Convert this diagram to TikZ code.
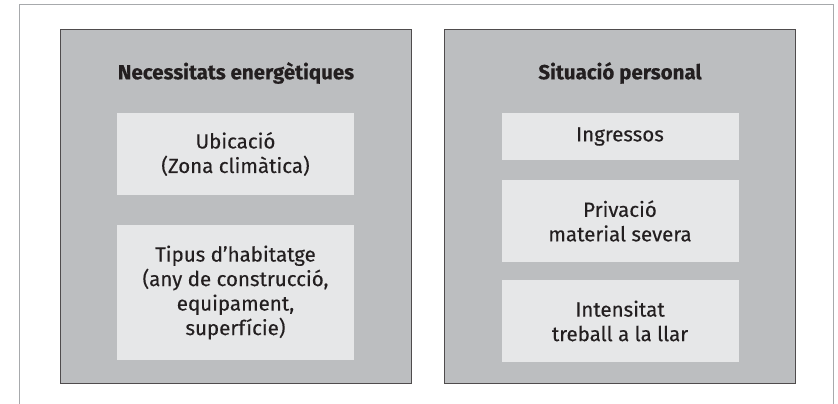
\documentclass[tikz,border=0pt]{standalone}
\usepackage{fontspec}
\setmainfont{Fira Sans}[FakeBold=0.3]
\usepackage{xcolor}
\usepackage{tikz}
\definecolor{framegray}{HTML}{A7A9AC}
\definecolor{panelgray}{HTML}{BCBEC0}
\definecolor{boxgray}{HTML}{E6E7E8}
\definecolor{inkgray}{HTML}{231F20}

\begin{document}
\begin{tikzpicture}[x=1pt,y=-1pt,font=\fontsize{20.5}{24.5}\selectfont,text=inkgray]
    \tikzstyle{panel}=[draw=inkgray!80, fill=panelgray, line width=0.8pt, minimum width=351pt, minimum height=354pt, inner sep=0pt]
    \tikzstyle{item}=[fill=boxgray, minimum width=237pt, align=center, inner sep=0pt]
    \tikzstyle{title}=[font=\fontsize{20.5}{24.5}\selectfont\bfseries]
    \useasboundingbox (0,0) rectangle (838,404);
    \draw[framegray, line width=1pt] (19,404) -- (19,5) -- (833,5) -- (833,404);
    \node[panel] (needs) at (235.5, 206){};
    \node[panel] (pers) at (619.5, 206){};
    \node[title] (needst) at (236, 73){Necessitats energètiques};
    \node[title] (perst) at (620, 73){Situació personal};
    \node[item, minimum height=82pt] (loc) at (235.5, 154){Ubicació\\(Zona climàtica)};
    \node[item, minimum height=135pt] (home) at (235.5, 292.5){Tipus d’habitatge\\(any de construcció,\\equipament,\\superfície)};
    \node[item, minimum height=47pt] (inc) at (620, 136.5){Ingressos};
    \node[item, minimum height=82pt] (dep) at (620, 221){Privació\\material severa};
    \node[item, minimum height=82pt] (work) at (620, 321){Intensitat\\treball a la llar};
\end{tikzpicture}
\end{document}
